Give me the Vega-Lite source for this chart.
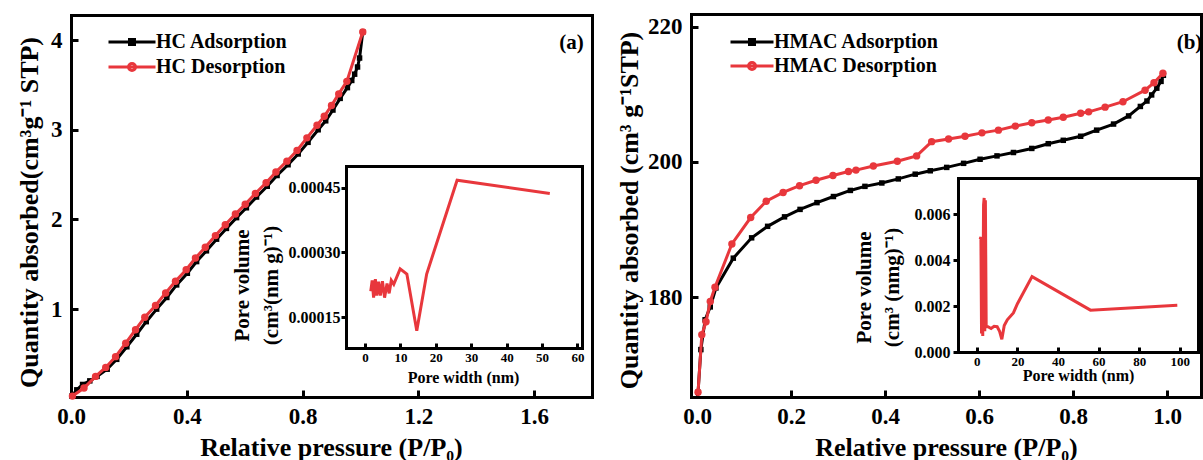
{
  "$schema": "https://vega.github.io/schema/vega-lite/v6.json",
  "width": 1203,
  "height": 460,
  "autosize": {"type": "none"},
  "padding": 0,
  "background": "white",
  "config": {
    "view": {"stroke": null},
    "axis": {
      "domainColor": "#000", "domainWidth": 3, "domainCap": "square",
      "tickColor": "#000", "tickWidth": 3,
      "labelFont": "Liberation Serif", "labelFontWeight": "bold", "labelColor": "#000",
      "titleFont": "Liberation Serif", "titleFontWeight": "bold", "titleColor": "#000",
      "grid": false, "labelFlush": false, "labelOverlap": false, "labelBound": false
    },
    "legend": {
      "labelFont": "Liberation Serif", "labelFontWeight": "bold", "labelColor": "#000", "labelLimit": 400
    }
  },
  "datasets": {
    "hcIso": [
      {"series": "HC Adsorption", "p": 0.003, "q": 0.03}, {"series": "HC Adsorption", "p": 0.02, "q": 0.1},
      {"series": "HC Adsorption", "p": 0.04, "q": 0.16}, {"series": "HC Adsorption", "p": 0.065, "q": 0.2},
      {"series": "HC Adsorption", "p": 0.09, "q": 0.25}, {"series": "HC Adsorption", "p": 0.125, "q": 0.33},
      {"series": "HC Adsorption", "p": 0.158, "q": 0.44}, {"series": "HC Adsorption", "p": 0.193, "q": 0.58},
      {"series": "HC Adsorption", "p": 0.227, "q": 0.72}, {"series": "HC Adsorption", "p": 0.26, "q": 0.86},
      {"series": "HC Adsorption", "p": 0.296, "q": 1.0}, {"series": "HC Adsorption", "p": 0.331, "q": 1.13},
      {"series": "HC Adsorption", "p": 0.365, "q": 1.27}, {"series": "HC Adsorption", "p": 0.402, "q": 1.4},
      {"series": "HC Adsorption", "p": 0.434, "q": 1.53}, {"series": "HC Adsorption", "p": 0.468, "q": 1.65},
      {"series": "HC Adsorption", "p": 0.503, "q": 1.78}, {"series": "HC Adsorption", "p": 0.537, "q": 1.9},
      {"series": "HC Adsorption", "p": 0.572, "q": 2.02}, {"series": "HC Adsorption", "p": 0.606, "q": 2.13},
      {"series": "HC Adsorption", "p": 0.641, "q": 2.25}, {"series": "HC Adsorption", "p": 0.678, "q": 2.37},
      {"series": "HC Adsorption", "p": 0.712, "q": 2.49}, {"series": "HC Adsorption", "p": 0.75, "q": 2.61},
      {"series": "HC Adsorption", "p": 0.785, "q": 2.73}, {"series": "HC Adsorption", "p": 0.819, "q": 2.86},
      {"series": "HC Adsorption", "p": 0.854, "q": 3.0}, {"series": "HC Adsorption", "p": 0.88, "q": 3.1},
      {"series": "HC Adsorption", "p": 0.905, "q": 3.22}, {"series": "HC Adsorption", "p": 0.93, "q": 3.35},
      {"series": "HC Adsorption", "p": 0.955, "q": 3.47}, {"series": "HC Adsorption", "p": 0.97, "q": 3.55},
      {"series": "HC Adsorption", "p": 0.98, "q": 3.62}, {"series": "HC Adsorption", "p": 0.99, "q": 3.7},
      {"series": "HC Adsorption", "p": 0.997, "q": 3.8}, {"series": "HC Adsorption", "p": 1.008, "q": 4.09},
      {"series": "HC Desorption", "p": 0.005, "q": 0.03}, {"series": "HC Desorption", "p": 0.045, "q": 0.12},
      {"series": "HC Desorption", "p": 0.085, "q": 0.25}, {"series": "HC Desorption", "p": 0.12, "q": 0.35},
      {"series": "HC Desorption", "p": 0.154, "q": 0.47}, {"series": "HC Desorption", "p": 0.189, "q": 0.62},
      {"series": "HC Desorption", "p": 0.223, "q": 0.77}, {"series": "HC Desorption", "p": 0.255, "q": 0.91},
      {"series": "HC Desorption", "p": 0.292, "q": 1.04}, {"series": "HC Desorption", "p": 0.327, "q": 1.18},
      {"series": "HC Desorption", "p": 0.361, "q": 1.31}, {"series": "HC Desorption", "p": 0.398, "q": 1.44},
      {"series": "HC Desorption", "p": 0.43, "q": 1.57}, {"series": "HC Desorption", "p": 0.464, "q": 1.69},
      {"series": "HC Desorption", "p": 0.499, "q": 1.82}, {"series": "HC Desorption", "p": 0.533, "q": 1.94},
      {"series": "HC Desorption", "p": 0.568, "q": 2.06}, {"series": "HC Desorption", "p": 0.602, "q": 2.17},
      {"series": "HC Desorption", "p": 0.637, "q": 2.29}, {"series": "HC Desorption", "p": 0.674, "q": 2.41},
      {"series": "HC Desorption", "p": 0.708, "q": 2.53}, {"series": "HC Desorption", "p": 0.746, "q": 2.65},
      {"series": "HC Desorption", "p": 0.781, "q": 2.77}, {"series": "HC Desorption", "p": 0.815, "q": 2.91},
      {"series": "HC Desorption", "p": 0.85, "q": 3.05}, {"series": "HC Desorption", "p": 0.875, "q": 3.15},
      {"series": "HC Desorption", "p": 0.9, "q": 3.27}, {"series": "HC Desorption", "p": 0.925, "q": 3.4},
      {"series": "HC Desorption", "p": 0.953, "q": 3.54}, {"series": "HC Desorption", "p": 1.008, "q": 4.09}
    ],
    "hcPore": [
      {"w": 1.6, "v": 0.00021}, {"w": 2.0, "v": 0.000235}, {"w": 2.4, "v": 0.000195},
      {"w": 2.9, "v": 0.000238}, {"w": 3.3, "v": 0.0002}, {"w": 3.8, "v": 0.000232},
      {"w": 4.3, "v": 0.0002}, {"w": 4.9, "v": 0.000233}, {"w": 5.5, "v": 0.000195},
      {"w": 6.2, "v": 0.000228}, {"w": 6.8, "v": 0.000205}, {"w": 7.4, "v": 0.000235},
      {"w": 8.1, "v": 0.000226}, {"w": 9.9, "v": 0.000262}, {"w": 11.8, "v": 0.00025},
      {"w": 14.6, "v": 0.000118}, {"w": 17.4, "v": 0.00025}, {"w": 26.0, "v": 0.000468},
      {"w": 52.2, "v": 0.000437}
    ],
    "hmacIso": [
      {"series": "HMAC Adsorption", "p": 0.002, "q": 166.0}, {"series": "HMAC Adsorption", "p": 0.008, "q": 172.3},
      {"series": "HMAC Adsorption", "p": 0.017, "q": 176.7}, {"series": "HMAC Adsorption", "p": 0.028, "q": 178.6},
      {"series": "HMAC Adsorption", "p": 0.04, "q": 181.4}, {"series": "HMAC Adsorption", "p": 0.077, "q": 185.8},
      {"series": "HMAC Adsorption", "p": 0.116, "q": 188.8}, {"series": "HMAC Adsorption", "p": 0.15, "q": 190.5},
      {"series": "HMAC Adsorption", "p": 0.186, "q": 191.9}, {"series": "HMAC Adsorption", "p": 0.219, "q": 193.0},
      {"series": "HMAC Adsorption", "p": 0.255, "q": 194.0}, {"series": "HMAC Adsorption", "p": 0.29, "q": 194.9},
      {"series": "HMAC Adsorption", "p": 0.326, "q": 195.8}, {"series": "HMAC Adsorption", "p": 0.357, "q": 196.4},
      {"series": "HMAC Adsorption", "p": 0.393, "q": 196.9}, {"series": "HMAC Adsorption", "p": 0.428, "q": 197.5},
      {"series": "HMAC Adsorption", "p": 0.464, "q": 198.2}, {"series": "HMAC Adsorption", "p": 0.496, "q": 198.7},
      {"series": "HMAC Adsorption", "p": 0.531, "q": 199.2}, {"series": "HMAC Adsorption", "p": 0.567, "q": 199.8},
      {"series": "HMAC Adsorption", "p": 0.602, "q": 200.4}, {"series": "HMAC Adsorption", "p": 0.638, "q": 200.9},
      {"series": "HMAC Adsorption", "p": 0.673, "q": 201.4}, {"series": "HMAC Adsorption", "p": 0.712, "q": 202.0},
      {"series": "HMAC Adsorption", "p": 0.747, "q": 202.7}, {"series": "HMAC Adsorption", "p": 0.779, "q": 203.2},
      {"series": "HMAC Adsorption", "p": 0.816, "q": 203.8}, {"series": "HMAC Adsorption", "p": 0.85, "q": 204.7},
      {"series": "HMAC Adsorption", "p": 0.886, "q": 205.6}, {"series": "HMAC Adsorption", "p": 0.918, "q": 206.8},
      {"series": "HMAC Adsorption", "p": 0.943, "q": 208.2}, {"series": "HMAC Adsorption", "p": 0.957, "q": 209.0},
      {"series": "HMAC Adsorption", "p": 0.967, "q": 209.9}, {"series": "HMAC Adsorption", "p": 0.978, "q": 210.9},
      {"series": "HMAC Adsorption", "p": 0.987, "q": 211.9}, {"series": "HMAC Adsorption", "p": 0.992, "q": 212.8},
      {"series": "HMAC Desorption", "p": 0.002, "q": 166.0}, {"series": "HMAC Desorption", "p": 0.01, "q": 174.5},
      {"series": "HMAC Desorption", "p": 0.019, "q": 176.4}, {"series": "HMAC Desorption", "p": 0.028, "q": 179.4},
      {"series": "HMAC Desorption", "p": 0.038, "q": 181.5}, {"series": "HMAC Desorption", "p": 0.074, "q": 187.9},
      {"series": "HMAC Desorption", "p": 0.114, "q": 191.8}, {"series": "HMAC Desorption", "p": 0.147, "q": 194.2},
      {"series": "HMAC Desorption", "p": 0.183, "q": 195.5}, {"series": "HMAC Desorption", "p": 0.218, "q": 196.5},
      {"series": "HMAC Desorption", "p": 0.253, "q": 197.3}, {"series": "HMAC Desorption", "p": 0.289, "q": 198.0},
      {"series": "HMAC Desorption", "p": 0.322, "q": 198.6}, {"series": "HMAC Desorption", "p": 0.338, "q": 198.8},
      {"series": "HMAC Desorption", "p": 0.375, "q": 199.4}, {"series": "HMAC Desorption", "p": 0.426, "q": 200.1},
      {"series": "HMAC Desorption", "p": 0.467, "q": 200.9}, {"series": "HMAC Desorption", "p": 0.499, "q": 203.0},
      {"series": "HMAC Desorption", "p": 0.535, "q": 203.4}, {"series": "HMAC Desorption", "p": 0.57, "q": 203.8},
      {"series": "HMAC Desorption", "p": 0.606, "q": 204.3}, {"series": "HMAC Desorption", "p": 0.641, "q": 204.7},
      {"series": "HMAC Desorption", "p": 0.677, "q": 205.3}, {"series": "HMAC Desorption", "p": 0.712, "q": 205.8},
      {"series": "HMAC Desorption", "p": 0.747, "q": 206.2}, {"series": "HMAC Desorption", "p": 0.779, "q": 206.6},
      {"series": "HMAC Desorption", "p": 0.816, "q": 207.2}, {"series": "HMAC Desorption", "p": 0.833, "q": 207.4},
      {"series": "HMAC Desorption", "p": 0.868, "q": 208.1}, {"series": "HMAC Desorption", "p": 0.906, "q": 208.9},
      {"series": "HMAC Desorption", "p": 0.953, "q": 210.6}, {"series": "HMAC Desorption", "p": 0.972, "q": 211.7},
      {"series": "HMAC Desorption", "p": 0.991, "q": 213.1}
    ],
    "hmacPore": [
      {"w": 1.6, "v": 0.0049}, {"w": 2.0, "v": 0.005}, {"w": 2.3, "v": 0.0008}, {"w": 2.6, "v": 0.0046},
      {"w": 2.9, "v": 0.0007}, {"w": 3.3, "v": 0.0064}, {"w": 3.6, "v": 0.0067}, {"w": 3.9, "v": 0.0009},
      {"w": 4.2, "v": 0.0066}, {"w": 4.6, "v": 0.0011}, {"w": 5.5, "v": 0.0011}, {"w": 7.0, "v": 0.00102},
      {"w": 8.5, "v": 0.00112}, {"w": 10.0, "v": 0.0011}, {"w": 11.2, "v": 0.0009}, {"w": 12.3, "v": 0.00055},
      {"w": 13.5, "v": 0.00115}, {"w": 15.0, "v": 0.0014}, {"w": 18.0, "v": 0.0017}, {"w": 20.0, "v": 0.0021},
      {"w": 27.2, "v": 0.00328}, {"w": 56.0, "v": 0.00182}, {"w": 98.8, "v": 0.00203}
    ]
  },
  "layer": [
    {
      "data": {"name": "hcIso"},
      "resolve": {"axis": {"x": "independent", "y": "independent"}},
      "layer": [
        {
          "transform": [{"filter": "datum.series === 'HC Adsorption'"}],
          "mark": {"type": "line", "color": "#000000", "strokeWidth": 3},
          "encoding": {
            "x": {"field": "p", "type": "quantitative", "scale": {"domain": [0, 1.8], "range": [71, 592], "nice": false, "zero": false},
              "axis": {"orient": "bottom", "offset": -63, "values": [0, 0.4, 0.8, 1.2, 1.6], "format": ".1f", "tickSize": -7, "labelPadding": 15, "labelFontSize": 23,
                "title": "Relative pressure (P/P₀)", "titleFontSize": 26, "titleX": 331, "titleY": 58, "titleBaseline": "alphabetic", "titleAlign": "center"}},
            "y": {"field": "q", "type": "quantitative", "scale": {"domain": [0.02, 4.28], "range": [397, 15], "nice": false, "zero": false},
              "axis": {"orient": "left", "offset": -71, "values": [1, 2, 3, 4], "format": "d", "tickSize": -7, "labelPadding": 16, "labelFontSize": 23,
                "title": "Quantity absorbed(cm³g⁻¹ STP)", "titleFontSize": 26, "titleX": -42, "titleY": 212, "titleAngle": -90, "titleBaseline": "middle", "titleAlign": "center"}}
          }
        },
        {
          "transform": [{"filter": "datum.series === 'HC Adsorption'"}],
          "mark": {"type": "point", "shape": "square", "filled": true, "color": "#000000", "size": 30, "opacity": 1},
          "encoding": {
            "x": {"field": "p", "type": "quantitative", "axis": null},
            "y": {"field": "q", "type": "quantitative", "axis": null}
          }
        },
        {
          "transform": [{"filter": "datum.series === 'HC Desorption'"}],
          "mark": {"type": "line", "color": "#E8373C", "strokeWidth": 3},
          "encoding": {
            "x": {"field": "p", "type": "quantitative", "axis": null},
            "y": {"field": "q", "type": "quantitative", "axis": null}
          }
        },
        {
          "transform": [{"filter": "datum.series === 'HC Desorption'"}],
          "mark": {"type": "point", "shape": "circle", "filled": true, "color": "#E8373C", "size": 55, "opacity": 1},
          "encoding": {
            "x": {"field": "p", "type": "quantitative", "axis": null},
            "y": {"field": "q", "type": "quantitative", "axis": null}
          }
        },
        {
          "mark": {"type": "point", "filled": true, "opacity": 0, "strokeWidth": 3, "size": 100},
          "encoding": {
            "x": {"field": "p", "type": "quantitative",
              "axis": {"orient": "top", "offset": -15, "ticks": false, "labels": false, "title": "(a)", "titleFontSize": 21, "titleX": 571, "titleY": 27, "titleBaseline": "middle", "titleAlign": "center"}},
            "y": {"field": "q", "type": "quantitative",
              "axis": {"orient": "right", "offset": -611, "ticks": false, "labels": false, "title": null}},
            "fill": {"field": "series", "type": "nominal", "scale": {"domain": ["HC Adsorption", "HC Desorption"], "range": ["#000000", "#E8373C"]},
              "legend": {"orient": "none", "legendX": 122, "legendY": 32, "title": null, "symbolSize": 100, "symbolStrokeWidth": 3, "labelFontSize": 20, "labelOffset": 14, "rowPadding": 5, "padding": 0}},
            "stroke": {"field": "series", "type": "nominal", "scale": {"domain": ["HC Adsorption", "HC Desorption"], "range": ["#000000", "#E8373C"]},
              "legend": {"orient": "none", "legendX": 122, "legendY": 32, "title": null, "symbolSize": 100, "symbolStrokeWidth": 3, "labelFontSize": 20, "labelOffset": 14, "rowPadding": 5, "padding": 0}},
            "shape": {"field": "series", "type": "nominal", "scale": {"domain": ["HC Adsorption", "HC Desorption"], "range": ["M-4.7,0H4.7M-0.5,-0.5H0.5V0.5H-0.5Z", "M-4.7,0H4.7M0.7,0A0.7,0.7,0,1,1,-0.7,0A0.7,0.7,0,1,1,0.7,0Z"]},
              "legend": {"orient": "none", "legendX": 122, "legendY": 32, "title": null, "symbolSize": 100, "symbolStrokeWidth": 3, "labelFontSize": 20, "labelOffset": 14, "rowPadding": 5, "padding": 0}}
          }
        }
      ]
    },
    {
      "data": {"name": "hcPore"},
      "resolve": {"axis": {"x": "independent", "y": "independent"}},
      "layer": [
        {
          "mark": {"type": "line", "color": "#E8373C", "strokeWidth": 3},
          "encoding": {
            "x": {"field": "w", "type": "quantitative", "scale": {"domain": [-5.4, 61.3], "range": [346, 582], "nice": false, "zero": false},
              "axis": {"orient": "bottom", "offset": -112, "values": [0, 10, 20, 30, 40, 50, 60], "format": "d", "tickSize": -5, "labelPadding": 8, "labelFontSize": 13,
                "title": "Pore width (nm)", "titleFontSize": 16, "titleX": 463, "titleY": 29, "titleBaseline": "middle", "titleAlign": "center"}},
            "y": {"field": "v", "type": "quantitative", "scale": {"domain": [0.000078, 0.000501], "range": [348, 166], "nice": false, "zero": false},
              "axis": {"orient": "left", "offset": -346, "values": [0.00015, 0.0003, 0.00045], "format": ".5f", "tickSize": 5, "labelPadding": 1, "labelFontSize": 16,
                "title": ["Pore volume", "(cm³(nm g)⁻¹)"], "titleFontSize": 21, "titleLineHeight": 29, "titleX": -104, "titleY": 285, "titleAngle": -90, "titleBaseline": "middle", "titleAlign": "center"}}
          }
        },
        {
          "mark": {"type": "line", "opacity": 0},
          "encoding": {
            "x": {"field": "w", "type": "quantitative", "axis": {"orient": "top", "offset": -166, "ticks": false, "labels": false, "title": null}},
            "y": {"field": "v", "type": "quantitative", "axis": {"orient": "right", "offset": -621, "ticks": false, "labels": false, "title": null}}
          }
        }
      ]
    },
    {
      "data": {"name": "hmacIso"},
      "resolve": {"axis": {"x": "independent", "y": "independent"}},
      "layer": [
        {
          "transform": [{"filter": "datum.series === 'HMAC Adsorption'"}],
          "mark": {"type": "line", "color": "#000000", "strokeWidth": 3},
          "encoding": {
            "x": {"field": "p", "type": "quantitative", "scale": {"domain": [-0.013, 1.072], "range": [691, 1201], "nice": false, "zero": false},
              "axis": {"orient": "bottom", "offset": -63, "values": [0, 0.2, 0.4, 0.6, 0.8, 1.0], "format": ".1f", "tickSize": -7, "labelPadding": 15, "labelFontSize": 23,
                "title": "Relative pressure (P/P₀)", "titleFontSize": 26, "titleX": 946, "titleY": 58, "titleBaseline": "alphabetic", "titleAlign": "center"}},
            "y": {"field": "q", "type": "quantitative", "scale": {"domain": [165.3, 221.85], "range": [397, 14], "nice": false, "zero": false},
              "axis": {"orient": "left", "offset": -691, "values": [180, 200, 220], "format": "d", "tickSize": -7, "labelPadding": 16, "labelFontSize": 23,
                "title": "Quantity absorbed (cm³ g⁻¹STP)", "titleFontSize": 26, "titleX": -62, "titleY": 210, "titleAngle": -90, "titleBaseline": "middle", "titleAlign": "center"}}
          }
        },
        {
          "transform": [{"filter": "datum.series === 'HMAC Adsorption'"}],
          "mark": {"type": "point", "shape": "square", "filled": true, "color": "#000000", "size": 30, "opacity": 1},
          "encoding": {
            "x": {"field": "p", "type": "quantitative", "axis": null},
            "y": {"field": "q", "type": "quantitative", "axis": null}
          }
        },
        {
          "transform": [{"filter": "datum.series === 'HMAC Desorption'"}],
          "mark": {"type": "line", "color": "#E8373C", "strokeWidth": 3},
          "encoding": {
            "x": {"field": "p", "type": "quantitative", "axis": null},
            "y": {"field": "q", "type": "quantitative", "axis": null}
          }
        },
        {
          "transform": [{"filter": "datum.series === 'HMAC Desorption'"}],
          "mark": {"type": "point", "shape": "circle", "filled": true, "color": "#E8373C", "size": 55, "opacity": 1},
          "encoding": {
            "x": {"field": "p", "type": "quantitative", "axis": null},
            "y": {"field": "q", "type": "quantitative", "axis": null}
          }
        },
        {
          "mark": {"type": "point", "filled": true, "opacity": 0, "strokeWidth": 3, "size": 100},
          "encoding": {
            "x": {"field": "p", "type": "quantitative",
              "axis": {"orient": "top", "offset": -14, "ticks": false, "labels": false, "title": "(b)", "titleFontSize": 21, "titleX": 1189, "titleY": 28, "titleBaseline": "middle", "titleAlign": "center"}},
            "y": {"field": "q", "type": "quantitative",
              "axis": {"orient": "right", "offset": -2, "ticks": false, "labels": false, "title": null}},
            "fill": {"field": "series", "type": "nominal", "scale": {"domain": ["HMAC Adsorption", "HMAC Desorption"], "range": ["#000000", "#E8373C"]},
              "legend": {"orient": "none", "legendX": 742, "legendY": 32, "title": null, "symbolSize": 100, "symbolStrokeWidth": 3, "labelFontSize": 20, "labelOffset": 12, "rowPadding": 4, "padding": 0}},
            "stroke": {"field": "series", "type": "nominal", "scale": {"domain": ["HMAC Adsorption", "HMAC Desorption"], "range": ["#000000", "#E8373C"]},
              "legend": {"orient": "none", "legendX": 742, "legendY": 32, "title": null, "symbolSize": 100, "symbolStrokeWidth": 3, "labelFontSize": 20, "labelOffset": 12, "rowPadding": 4, "padding": 0}},
            "shape": {"field": "series", "type": "nominal", "scale": {"domain": ["HMAC Adsorption", "HMAC Desorption"], "range": ["M-4.3,0H4.3M-0.5,-0.5H0.5V0.5H-0.5Z", "M-4.3,0H4.3M0.7,0A0.7,0.7,0,1,1,-0.7,0A0.7,0.7,0,1,1,0.7,0Z"]},
              "legend": {"orient": "none", "legendX": 742, "legendY": 32, "title": null, "symbolSize": 100, "symbolStrokeWidth": 3, "labelFontSize": 20, "labelOffset": 12, "rowPadding": 4, "padding": 0}}
          }
        }
      ]
    },
    {
      "data": {"name": "hmacPore"},
      "resolve": {"axis": {"x": "independent", "y": "independent"}},
      "layer": [
        {
          "mark": {"type": "line", "color": "#E8373C", "strokeWidth": 3},
          "encoding": {
            "x": {"field": "w", "type": "quantitative", "scale": {"domain": [-9.3, 109], "range": [958, 1198], "nice": false, "zero": false},
              "axis": {"orient": "bottom", "offset": -108, "values": [0, 20, 40, 60, 80, 100], "format": "d", "tickSize": -5, "labelPadding": 8, "labelFontSize": 13,
                "title": "Pore width (nm)", "titleFontSize": 16, "titleX": 1078, "titleY": 23, "titleBaseline": "middle", "titleAlign": "center"}},
            "y": {"field": "v", "type": "quantitative", "scale": {"domain": [0, 0.00757], "range": [352, 178], "nice": false, "zero": false},
              "axis": {"orient": "left", "offset": -958, "values": [0, 0.002, 0.004, 0.006], "format": ".3f", "tickSize": 5, "labelPadding": 3, "labelFontSize": 16,
                "title": ["Pore volume", "(cm³ (nmg)⁻¹)"], "titleFontSize": 21, "titleLineHeight": 28, "titleX": -94, "titleY": 287, "titleAngle": -90, "titleBaseline": "middle", "titleAlign": "center"}}
          }
        },
        {
          "mark": {"type": "line", "opacity": 0},
          "encoding": {
            "x": {"field": "w", "type": "quantitative", "axis": {"orient": "top", "offset": -178, "ticks": false, "labels": false, "title": null}},
            "y": {"field": "v", "type": "quantitative", "axis": {"orient": "right", "offset": -5, "ticks": false, "labels": false, "title": null}}
          }
        }
      ]
    }
  ],
  "resolve": {
    "scale": {"x": "independent", "y": "independent", "fill": "independent", "stroke": "independent", "shape": "independent"},
    "axis": {"x": "independent", "y": "independent"},
    "legend": {"fill": "independent", "stroke": "independent", "shape": "independent"}
  }
}
